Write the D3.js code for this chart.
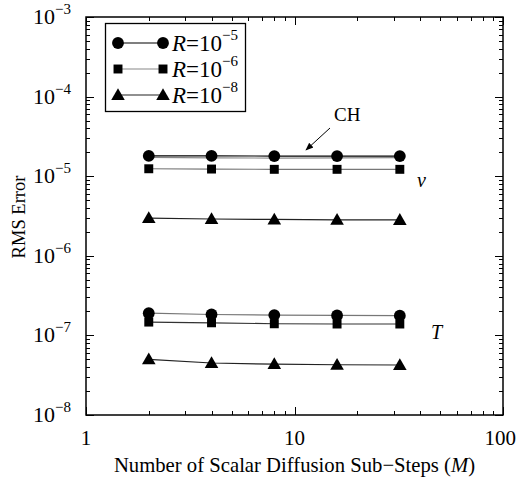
<!DOCTYPE html>
<html><head><meta charset="utf-8">
<script src="https://cdn.jsdelivr.net/npm/d3@7"></script>
<style>body{margin:0;background:#fff}svg{display:block}text{font-family:"Liberation Serif","Times New Roman",serif;fill:#000}</style>
</head><body>
<svg id="c" width="517" height="479"></svg>
<script>
const steps = [2, 4, 8, 16, 32];
const vR5 = [1.80e-5, 1.80e-5, 1.79e-5, 1.79e-5, 1.79e-5];
const vR6 = [1.24e-5, 1.23e-5, 1.22e-5, 1.22e-5, 1.22e-5];
const vR8 = [2.98e-6, 2.90e-6, 2.86e-6, 2.83e-6, 2.82e-6];
const vCH = [1.72e-5, 1.70e-5, 1.69e-5, 1.70e-5, 1.71e-5];
const tR5 = [1.90e-7, 1.83e-7, 1.80e-7, 1.78e-7, 1.77e-7];
const tR6 = [1.47e-7, 1.44e-7, 1.40e-7, 1.39e-7, 1.39e-7];
const tR8 = [5.0e-8, 4.5e-8, 4.35e-8, 4.28e-8, 4.25e-8];
const xTickLabels = ["1", "10", "100"];
const yTickExps = [-3, -4, -5, -6, -7, -8];
const legendLabels = ["-5", "-6", "-8"];

const svg = d3.select("#c");
const L = 86, R = 503, T = 17, B = 415;
const x = d3.scaleLog().domain([1, 100]).range([L, R]);
const y = d3.scaleLog().domain([1e-8, 1e-3]).range([B, T]);

// ticks
const minorX = [], minorY = [];
for (let d = 1; d <= 10; d *= 10) for (let k = 2; k <= 9; k++) minorX.push(d * k);
for (let e = -8; e < -3; e++) for (let k = 2; k <= 9; k++) minorY.push(k * Math.pow(10, e));
const majX = [1, 10, 100], majY = yTickExps.map(e => Math.pow(10, e));
const g = svg.append("g").attr("stroke", "#000").attr("stroke-width", 1);
function tickX(v, len) {
  const px = Math.round(x(v)) + 0.5;
  g.append("line").attr("x1", px).attr("x2", px).attr("y1", B).attr("y2", B - len);
  g.append("line").attr("x1", px).attr("x2", px).attr("y1", T).attr("y2", T + len);
}
function tickY(v, len) {
  const py = Math.round(y(v)) + 0.5;
  g.append("line").attr("y1", py).attr("y2", py).attr("x1", L).attr("x2", L + len);
  g.append("line").attr("y1", py).attr("y2", py).attr("x1", R).attr("x2", R - len);
}
minorX.forEach(v => tickX(v, 4));
majX.forEach(v => tickX(v, 8));
minorY.forEach(v => tickY(v, 4));
majY.forEach(v => tickY(v, 8));
svg.append("rect").attr("x", L).attr("y", T).attr("width", R - L).attr("height", B - T)
  .attr("fill", "none").attr("stroke", "#000").attr("stroke-width", 1.5);

// tick labels
majX.forEach((v, i) => {
  const last = i === majX.length - 1;
  svg.append("text").attr("x", last ? 516 : x(v)).attr("y", 445)
    .attr("text-anchor", last ? "end" : "middle")
    .attr("font-size", 21).text(xTickLabels[i]);
});
majY.forEach((v, i) => {
  const t = svg.append("text").attr("x", 33).attr("y", y(v) + 7).attr("font-size", 22);
  t.append("tspan").text("10");
  t.append("tspan").attr("dy", -10).attr("font-size", 15).text("\u2212" + Math.abs(yTickExps[i]));
});

// axis titles
const xt = svg.append("text").attr("x", (L + R) / 2 + 0).attr("y", 472).attr("text-anchor", "middle").attr("font-size", 20.7);
xt.append("tspan").text("Number of Scalar Diffusion Sub\u2212Steps (");
xt.append("tspan").attr("font-style", "italic").text("M");
xt.append("tspan").text(")");
svg.append("text").attr("transform", "translate(25,217) rotate(-90)").attr("text-anchor", "middle")
  .attr("font-size", 18.5).text("RMS Error");

// series
const line = d3.line().x(d => x(d[0])).y(d => y(d[1]));
function series(vals, color, marker) {
  const pts = steps.map((s, i) => [s, vals[i]]);
  svg.append("path").datum(pts).attr("d", line).attr("fill", "none").attr("stroke", color).attr("stroke-width", 1.2);
  if (marker) drawMarkers(pts, marker);
}
function markerPath(type) {
  if (type === "circle") return d3.symbol(d3.symbolCircle, 110)();
  if (type === "square") return d3.symbol(d3.symbolSquare, 80)();
  return d3.symbol(d3.symbolTriangle, 80)();
}
function drawMarkers(pts, type) {
  svg.selectAll(null).data(pts).enter().append("path")
    .attr("d", markerPath(type)).attr("transform", d => `translate(${x(d[0])},${y(d[1]) + (type === "triangle" ? 1 : 0)})`)
    .attr("fill", "#000");
}
series(vCH, "#888", null);
series(vR6, "#777", "square");
series(vR5, "#000", "circle");
series(vR8, "#222", "triangle");
series(tR6, "#333", "square");
series(tR5, "#777", "circle");
series(tR8, "#222", "triangle");

// legend
svg.append("rect").attr("x", 105.5).attr("y", 23.5).attr("width", 140).attr("height", 88)
  .attr("fill", "#fff").attr("stroke", "#000").attr("stroke-width", 1.3);
const legTypes = ["circle", "square", "triangle"], legColors = ["#000", "#888", "#222"];
legTypes.forEach((tp, i) => {
  const ly = 43 + i * 26;
  svg.append("line").attr("x1", 118).attr("x2", 163).attr("y1", ly).attr("y2", ly).attr("stroke", legColors[i]).attr("stroke-width", 1.2);
  [118, 163].forEach(lx => svg.append("path").attr("d", markerPath(tp)).attr("transform", `translate(${lx},${ly + (tp === "triangle" ? 1 : 0)})`).attr("fill", "#000"));
  const t = svg.append("text").attr("x", 172).attr("y", ly + 8).attr("font-size", 23);
  t.append("tspan").attr("font-style", "italic").text("R");
  t.append("tspan").text("=10");
  t.append("tspan").attr("dy", -11).attr("font-size", 15).text("\u2212" + legendLabels[i].slice(1));
});

// annotations
svg.append("text").attr("x", 334).attr("y", 121).attr("font-size", 19).text("CH");
svg.append("defs").append("marker").attr("id", "ah").attr("viewBox", "0 0 10 10").attr("refX", 9).attr("refY", 5)
  .attr("markerWidth", 8).attr("markerHeight", 8).attr("orient", "auto")
  .append("path").attr("d", "M0,1 L10,5 L0,9 Z").attr("fill", "#000");
svg.append("line").attr("x1", 330).attr("y1", 128).attr("x2", 306).attr("y2", 150)
  .attr("stroke", "#000").attr("stroke-width", 1).attr("marker-end", "url(#ah)");
svg.append("text").attr("x", 417).attr("y", 187).attr("font-size", 20).attr("font-style", "italic").text("v");
svg.append("text").attr("x", 431).attr("y", 339).attr("font-size", 20).attr("font-style", "italic").text("T");
</script>
</body></html>
